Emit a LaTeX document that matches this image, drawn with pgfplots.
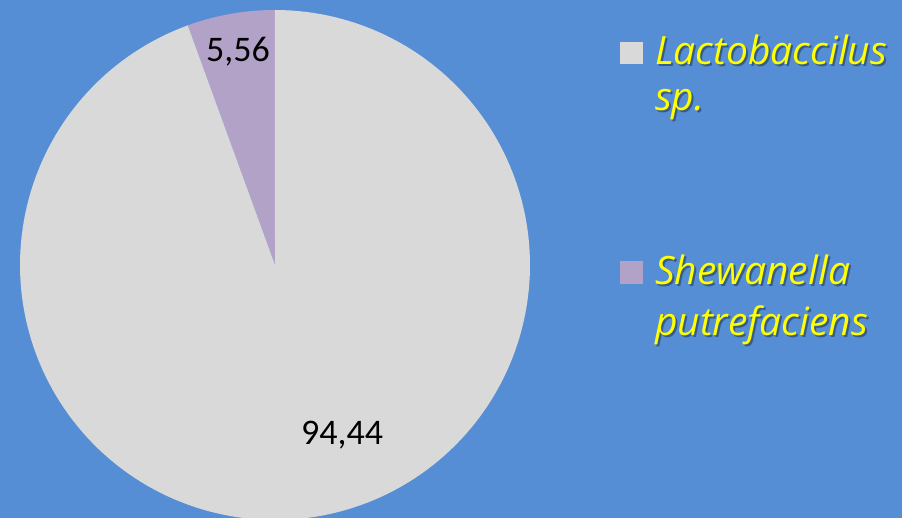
\documentclass[border=0pt]{standalone}
\usepackage{pgfplots}
\usepackage{pgfplotstable}
\pgfplotsset{compat=1.18}
\usepackage{fontspec}
\setmainfont{Carlito}
\newfontfamily\legfont{Open Sans}
\definecolor{bg}{RGB}{85,142,213}
\definecolor{lacto}{RGB}{217,217,217}
\definecolor{shew}{RGB}{179,162,199}
\definecolor{leg}{RGB}{255,255,0}

\pgfplotstableread{
name value
Lacto 94.44
Shew 5.56
}\piedata
\pgfplotstablegetelem{0}{value}\of\piedata \let\va\pgfplotsretval
\pgfplotstablegetelem{1}{value}\of\piedata \let\vb\pgfplotsretval
\pgfmathsetmacro{\angb}{90+\vb*3.6}
\pgfmathsetmacro{\anga}{\angb+\va*3.6}

\newcommand{\legtext}[2]{%
  \node[anchor=base west, text=black, opacity=0.35, font=\legfont\itshape\fontsize{19.5}{22}\selectfont] at (axis cs:#1) [xshift=1pt,yshift=-1pt] {#2};
  \node[anchor=base west, text=leg, font=\legfont\itshape\fontsize{19.5}{22}\selectfont] at (axis cs:#1) {#2};}

\begin{document}
\begin{tikzpicture}
\fill[bg] (0,0) rectangle (451pt,259pt);
\begin{axis}[at={(0,0)}, anchor=south west,
  width=451pt, height=259pt, scale only axis,
  xmin=0, xmax=902, ymin=0, ymax=518,
  hide axis]
\addplot[fill=shew, draw=none, domain=90:\angb, samples=40, variable=\t]
  ({275+255*cos(t)},{253+255*sin(t)}) -- (axis cs:275,253) -- cycle;
\addplot[fill=lacto, draw=none, domain=\angb:\anga, samples=200, variable=\t]
  ({275+255*cos(t)},{253+255*sin(t)}) -- (axis cs:275,253) -- cycle;
\node[font=\fontsize{18}{20}\selectfont] at (axis cs:238,466) {5,56};
\node[font=\fontsize{18}{20}\selectfont] at (axis cs:342,83) {94,44};
\fill[lacto] (axis cs:620,454) rectangle (axis cs:643,476);
\fill[shew] (axis cs:620,234) rectangle (axis cs:643,257);
\legtext{648,453}{Lactobaccilus}
\legtext{648,407}{sp.}
\legtext{648,233}{Shewanella}
\legtext{648,182}{putrefaciens}
\end{axis}
\end{tikzpicture}
\end{document}
